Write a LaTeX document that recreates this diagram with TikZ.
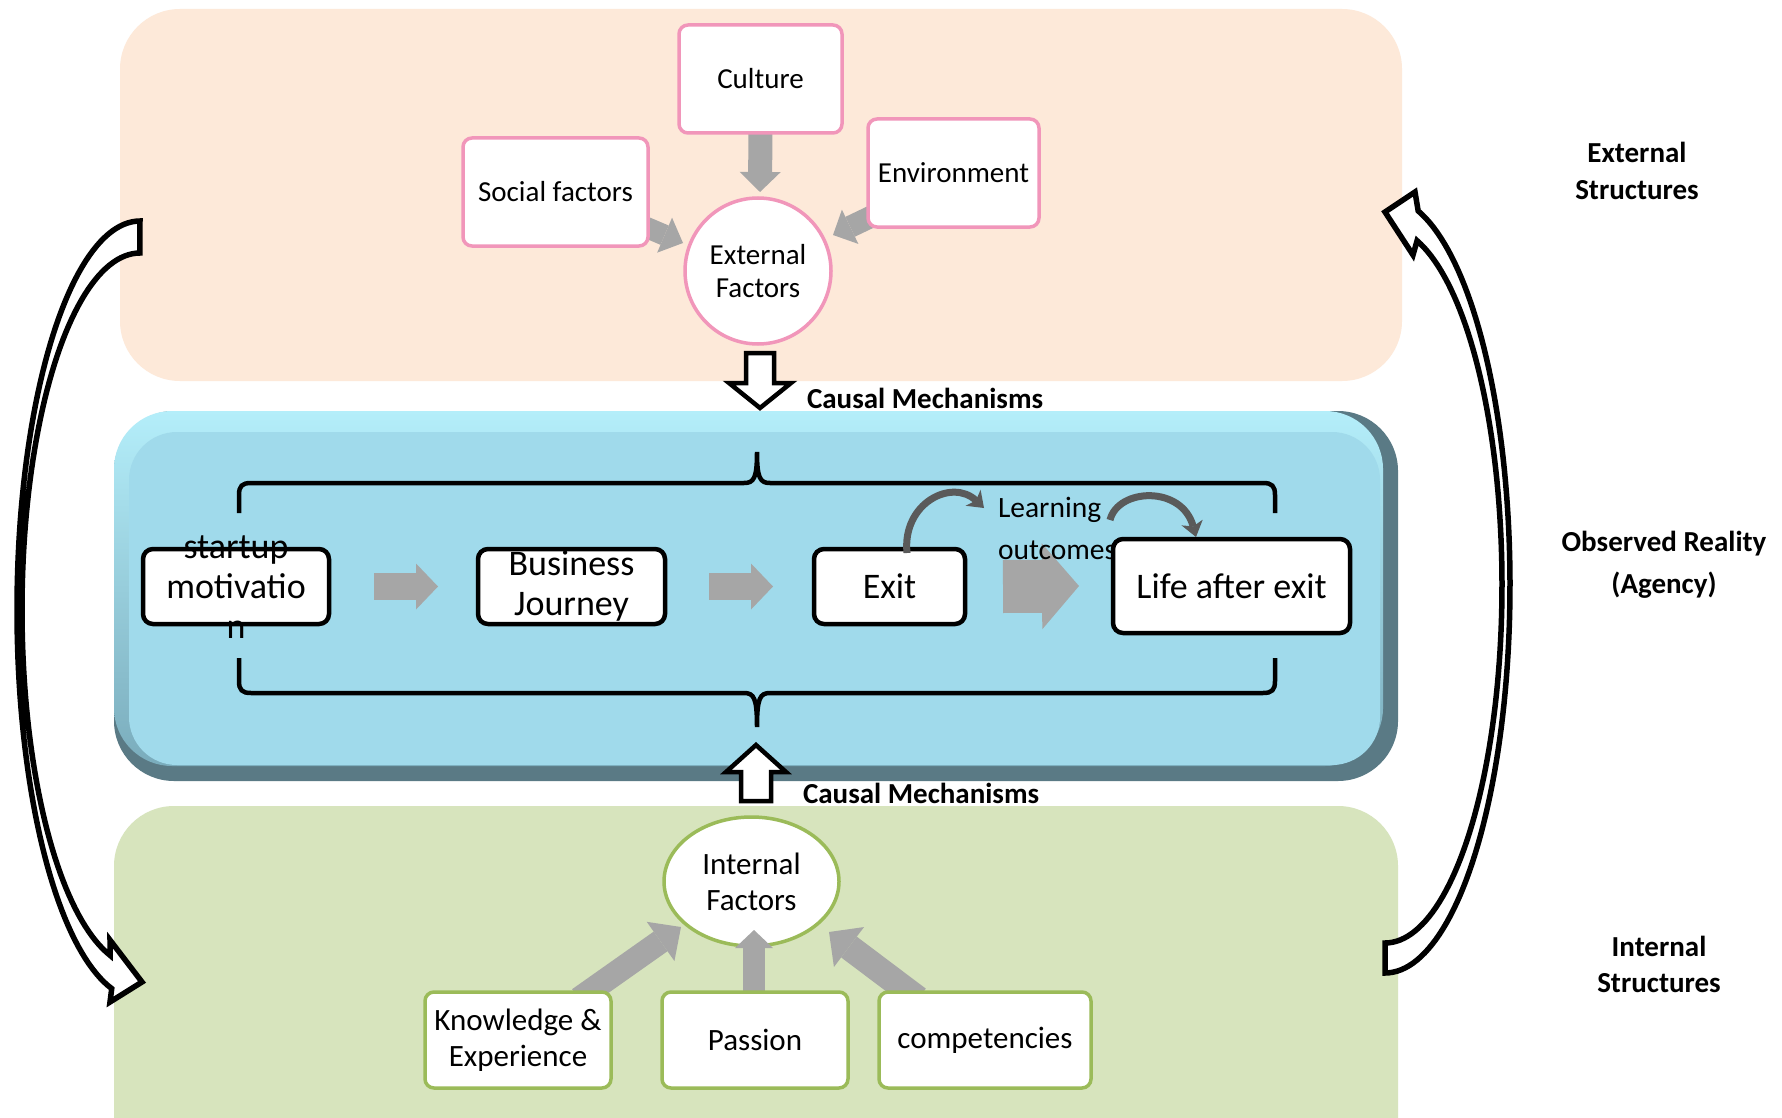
\documentclass[tikz,border=0pt]{standalone}
\usepackage{fontspec}
\setmainfont{Carlito}
\usetikzlibrary{arrows.meta,calc,shapes.geometric}

\definecolor{peach}{RGB}{253,233,217}
\definecolor{sage}{RGB}{215,228,189}
\definecolor{skyface}{RGB}{160,218,235}
\definecolor{skylight}{RGB}{180,238,250}
\definecolor{skymid}{RGB}{122,172,188}
\definecolor{skydark}{RGB}{90,122,133}
\definecolor{rosebd}{RGB}{241,150,186}
\definecolor{leafbd}{RGB}{155,187,89}
\definecolor{flowgray}{RGB}{166,166,166}
\definecolor{loopgray}{RGB}{90,90,90}

\pgfdeclarelayer{panels}
\pgfdeclarelayer{flows}
\pgfsetlayers{panels,flows,main}

\begin{document}
\begin{tikzpicture}[x=1pt,y=-1pt,
  every node/.style={inner sep=0pt, outer sep=0pt},
  pinkbox/.style={draw=rosebd, line width=3.5pt, fill=white, rounded corners=9pt,
    font=\fontsize{29}{33}\selectfont, align=center},
  greenbox/.style={draw=leafbd, line width=3.5pt, fill=white, rounded corners=9pt,
    font=\fontsize{31}{36}\selectfont, align=center},
  stagebox/.style={draw=black, line width=4.5pt, fill=white, rounded corners=10pt},
  stagetext/.style={font=\fontsize{36}{40}\selectfont, align=center},
  blockarrow/.style n args={3}{draw=flowgray, line width=#1,
    -{Triangle[length=#2, width=#3, line width=0pt]}},
  loopline/.style={draw=loopgray, line width=7pt,
    -{Stealth[length=15pt, width=22pt, inset=4pt, line width=0pt]}},
  hollowarrow/.style={draw=black, line width=4.5pt, fill=white, line join=miter},
  bracket/.style={draw=black, line width=4.5pt},
  sidelabel/.style={font=\bfseries\fontsize{29}{37}\selectfont, align=center},
  causal/.style={font=\bfseries\fontsize{29}{34}\selectfont, anchor=west}
]
\useasboundingbox (0,0) rectangle (1782,1118);
\clip (0,0) rectangle (1782,1118);

% three layers of structure
\begin{pgfonlayer}{panels}
\fill[white] (0,0) rectangle (1782,1118);
\fill[peach, rounded corners=60pt] (120,9) rectangle (1402,381);
\fill[skydark, rounded corners=60pt] (114,411) rectangle (1398,781);
\shade[rounded corners=58pt, top color=skylight, bottom color=skymid] (114,411) rectangle (1383,766);
\fill[skyface, rounded corners=48pt] (129,432) rectangle (1380,765);
\fill[sage, rounded corners=60pt] (114,806) rectangle (1398,1200);
\end{pgfonlayer}

% external factors
\node[pinkbox, minimum width=163pt, minimum height=108pt] (culture) at (760.5,79) {Culture};
\node[pinkbox, minimum width=185pt, minimum height=108pt] (social) at (555.5,192) {Social factors};
\node[pinkbox, minimum width=171pt, minimum height=108pt] (env) at (953.5,173) {Environment};
\node[pinkbox, circle, minimum size=146pt] (extf) at (758,271) {External\\Factors};

\begin{pgfonlayer}{flows}
\draw[blockarrow={24pt}{20pt}{41pt}] ($(culture.south)+(0,-8)$) -- ($(extf.north)+(2,-6)$);
\draw[blockarrow={21pt}{20pt}{38pt}] ($(social.east)+(-12,31)$) -- ($(extf.center)+(-75,-28)$);
\draw[blockarrow={22pt}{19pt}{38pt}] ($(env.west)+(13,39)$) -- ($(extf.center)+(75,-36)$);
\end{pgfonlayer}

% causal mechanisms, top
\draw[hollowarrow] (746,353) -- (774,353) -- (774,383) -- (791,383) -- (760,408)
  -- (729,383) -- (746,383) -- cycle;
\node[causal] (causaltop) at (807,398) {Causal Mechanisms};

% brackets around the observed process
\draw[bracket] (239,513) -- (239,495) .. controls (239,486) and (242,483) .. (251,483)
  -- (744,483) .. controls (754,483) and (757,478) .. (757,452)
  .. controls (757,478) and (760,483) .. (770,483) -- (1263,483)
  .. controls (1272,483) and (1275,486) .. (1275,495) -- (1275,513);
\draw[bracket] (239,658) -- (239,681) .. controls (239,690) and (242,693) .. (251,693)
  -- (744,693) .. controls (754,693) and (757,698) .. (757,727)
  .. controls (757,698) and (760,693) .. (770,693) -- (1263,693)
  .. controls (1272,693) and (1275,690) .. (1275,681) -- (1275,658);

% observed reality: the entrepreneurial path
\node[stagebox, minimum width=186pt, minimum height=75pt] (sm) at (236,586.5) {};
\node[stagetext] (smtext) at (236,587) {startup\\motivatio\\n};
\node[stagebox, minimum width=187pt, minimum height=75pt, stagetext] (bj) at (571.5,586.5) {Business\\Journey};
\node[stagebox, minimum width=151pt, minimum height=75pt, stagetext] (exit) at (889.5,586.5) {Exit};

\draw[blockarrow={27pt}{22pt}{46pt}] ($(sm.east)+(45,0)$) -- ($(bj.west)+(-40,0)$);
\draw[blockarrow={27pt}{22pt}{46pt}] ($(bj.east)+(44,0)$) -- ($(exit.west)+(-41,0)$);
\coordinate (lifew) at (1113,586);
\draw[blockarrow={53pt}{37pt}{86pt}] ($(exit.east)+(38,0)$) -- ($(lifew)+(-34,0)$);

\node[font=\fontsize{29.5}{42}\selectfont, align=left, anchor=west] (lo) at (998,528) {Learning\\outcomes};

\node[stagebox, minimum width=237pt, minimum height=94pt, stagetext] (life) at (1231.5,586) {Life after exit};

\coordinate (c1s) at ($(exit.north)+(17.5,4)$);
\coordinate (c1e) at ($(lo.west)+(-14,-20)$);
\draw[loopline] (c1s) .. controls ($(c1s)+(-5,-50)$) and ($(c1e)+(-32,-30)$) .. (c1e);
\coordinate (c2s) at ($(life.north west)+(-3,-19)$);
\coordinate (c2e) at ($(life.north)+(-35.5,-2)$);
\draw[loopline] (c2s) .. controls ($(c2s)+(8,-32)$) and ($(c2e)+(-14,-52)$) .. (c2e);

% causal mechanisms, bottom
\draw[hollowarrow] (756,745) -- (786,772) -- (771,772) -- (771,801) -- (741,801)
  -- (741,772) -- (726,772) -- cycle;
\node[causal] (causalbot) at (803,793) {Causal Mechanisms};

% internal factors (the circle sits below the incoming arrows)
\begin{pgfonlayer}{panels}
\node[greenbox, ellipse, minimum width=175pt, minimum height=129pt] (intf) at (751.5,881.5) {Internal\\Factors};
\end{pgfonlayer}
\node[greenbox, minimum width=186pt, minimum height=96pt] (know) at (518,1040) {Knowledge \&\\Experience};
\node[greenbox, minimum width=186pt, minimum height=96pt] (passion) at (755,1040) {Passion};
\node[greenbox, minimum width=212pt, minimum height=96pt] (comp) at (985,1040) {competencies};

\begin{pgfonlayer}{flows}
\draw[blockarrow={24pt}{25pt}{48pt}] ($(know.north)+(61,7)$) -- ($(intf.center)+(-70.5,45.5)$);
\draw[blockarrow={22pt}{18pt}{38pt}] ($(passion.north)+(-1,8)$) -- ($(intf.center)+(2.5,48.5)$);
\draw[blockarrow={26pt}{25pt}{50pt}] ($(comp.north)+(-67,7)$) -- ($(intf.center)+(77.5,50.5)$);
\end{pgfonlayer}

% feedback between internal and external structures
\draw[hollowarrow, line width=5.5pt] (140,221)
  -- plot[domain=0:1, samples=90, variable=\s] ({140+123*cos(-90-166.8*\s)}, {610+389*sin(-90-166.8*\s)})
  -- (110,1002) -- (142,982) -- (110,940)
  -- plot[domain=0:1, samples=90, variable=\s] ({140+118*cos(-255.3+165.3*\s)}, {610+357*sin(-255.3+165.3*\s)})
  -- cycle;
\draw[hollowarrow, line width=5.5pt] (1385,973)
  -- plot[domain=0:1, samples=90, variable=\s] ({1385+125*cos(90-164.7*\s)}, {585+388*sin(90-164.7*\s)})
  -- (1415,192) -- (1385,212) -- (1413,255)
  -- plot[domain=0:1, samples=90, variable=\s] ({1385+117*cos(-74.1+164.1*\s)}, {585+358*sin(-74.1+164.1*\s)})
  -- cycle;

% level labels
\node[sidelabel] (lblext) at (1637,171) {External\\Structures};
\node[sidelabel, font=\bfseries\fontsize{29}{42}\selectfont] (lblobs) at (1664,565) {Observed Reality\\(Agency)};
\node[sidelabel, font=\bfseries\fontsize{29}{36}\selectfont] (lblint) at (1659,964) {Internal\\Structures};
\end{tikzpicture}
\end{document}
